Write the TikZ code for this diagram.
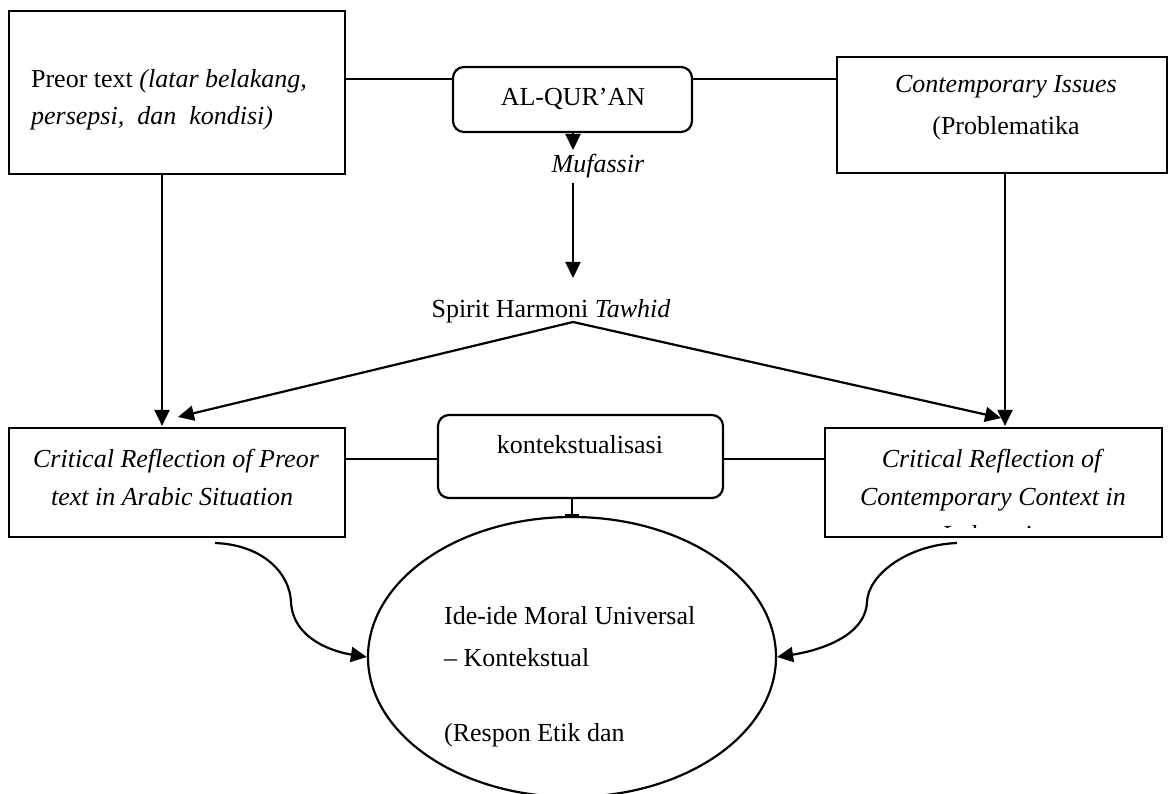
\documentclass[tikz,border=0pt]{standalone}
\usepackage{fontspec}
\setmainfont{Liberation Serif}
\usetikzlibrary{arrows.meta,shapes.geometric}
\begin{document}
\begin{tikzpicture}[x=1pt,y=-1pt,
  line width=2.2pt,
  font=\fontsize{26}{38}\selectfont,
  sqbox/.style={draw,rectangle,inner sep=0pt},
  rbox/.style={draw,rectangle,rounded corners=11pt,inner sep=0pt},
  txt/.style={inner sep=0pt,anchor=base},
  arr/.style={-{Triangle[length=16pt,width=15pt]}},
  conn/.style={line width=2.2pt}]
\useasboundingbox (0,0) rectangle (1170,794);
% boxes
\node[sqbox,minimum width=336pt,minimum height=163pt] (tl) at (177,92.5) {};
\node[rbox,minimum width=239pt,minimum height=65pt] (quran) at (572.5,99.5) {};
\node[sqbox,minimum width=330pt,minimum height=116pt] (tr) at (1002,115) {};
\node[sqbox,minimum width=336pt,minimum height=109pt] (bl) at (177,482.5) {};
\node[rbox,minimum width=285pt,minimum height=83pt] (kont) at (580.5,456.5) {};
\node[sqbox,minimum width=337pt,minimum height=109pt] (br) at (993.5,482.5) {};
\node[draw,ellipse,minimum width=408pt,minimum height=280pt,inner sep=0pt] (ell) at (572,657) {};
% texts
\node[txt,anchor=base west] (tl1) at (30,88) {Preor text \textit{(latar belakang,}};
\node[txt,anchor=base west] (tl2) at (30,125) {\textit{persepsi,\ \ dan\ \ kondisi)}};
\node[txt] (qt) at (573,106) {AL-QUR’AN};
\node[txt] (tr1) at (1006,93) {\textit{Contemporary Issues}};
\node[txt] (tr2) at (1006,135) {(Problematika};
\node[txt] (muf) at (598,173) {\textit{Mufassir}};
\node[txt] (spirit) at (551,318) {Spirit Harmoni \textit{Tawhid}};
\node[txt] (bl1) at (176,467) {\textit{Critical Reflection of Preor}};
\node[txt] (bl2) at (172,505) {\textit{text in Arabic Situation}};
\node[txt] (kt) at (580,453) {kontekstualisasi};
\node[txt] (br1) at (993,467) {\textit{Critical Reflection of}};
\node[txt] (br2) at (993,505) {\textit{Contemporary Context in}};
\begin{scope}
  \clip (826,429) rectangle (1161,527);
  \node[txt] (br3) at (993,543) {\textit{Indonesia}};
\end{scope}
\node[txt,anchor=base west] (e1) at (443,624) {Ide-ide Moral Universal};
\node[txt,anchor=base west] (e2) at (443,666) {– Kontekstual};
\node[txt,anchor=base west] (e3) at (443,741) {(Respon Etik dan};
% helper coordinates
\coordinate (lq) at (0,79);
\coordinate (lk) at (0,459);
\coordinate (mtop) at (573,150);
\coordinate (mbot) at (573,183);
\coordinate (stop) at (573,278);
\coordinate (apex) at (573,322);
\coordinate (vl) at (178,417);
\coordinate (vr) at (1001,418);
% connectors
\draw[conn] (tl.east |- lq) -- (quran.west |- lq);
\draw[conn] (quran.east |- lq) -- (tr.west |- lq);
\draw[conn,arr] (quran.south -| mtop) -- (mtop);
\draw[conn,arr] (mbot) -- (stop);
\draw[conn,arr] (apex) -- (vl);
\draw[conn,arr] (apex) -- (vr);
\draw[conn,arr] ([xshift=-15pt]tl.south) -- ([xshift=-15pt,yshift=1pt]bl.north);
\draw[conn,arr] (tr.south -| 1005,0) -- ([yshift=1pt]br.north -| 1005,0);
\draw[conn] (bl.east |- lk) -- (kont.west |- lk);
\draw[conn] (kont.east |- lk) -- (br.west |- lk);
\draw[conn,-{Bar[width=14pt]}] (kont.south -| ell.north) -- (ell.north);
\coordinate (cl0) at (215,543);
\coordinate (cr0) at (957,543);
\draw[conn,arr] (cl0) .. controls (265,545) and (290,575) .. (291,602)
   .. controls (293,640) and (335,652) .. (ell.west);
\draw[conn,arr] (cr0) .. controls (907,545) and (868,575) .. (867,602)
   .. controls (865,640) and (810,652) .. (ell.east);
\end{tikzpicture}
\end{document}
